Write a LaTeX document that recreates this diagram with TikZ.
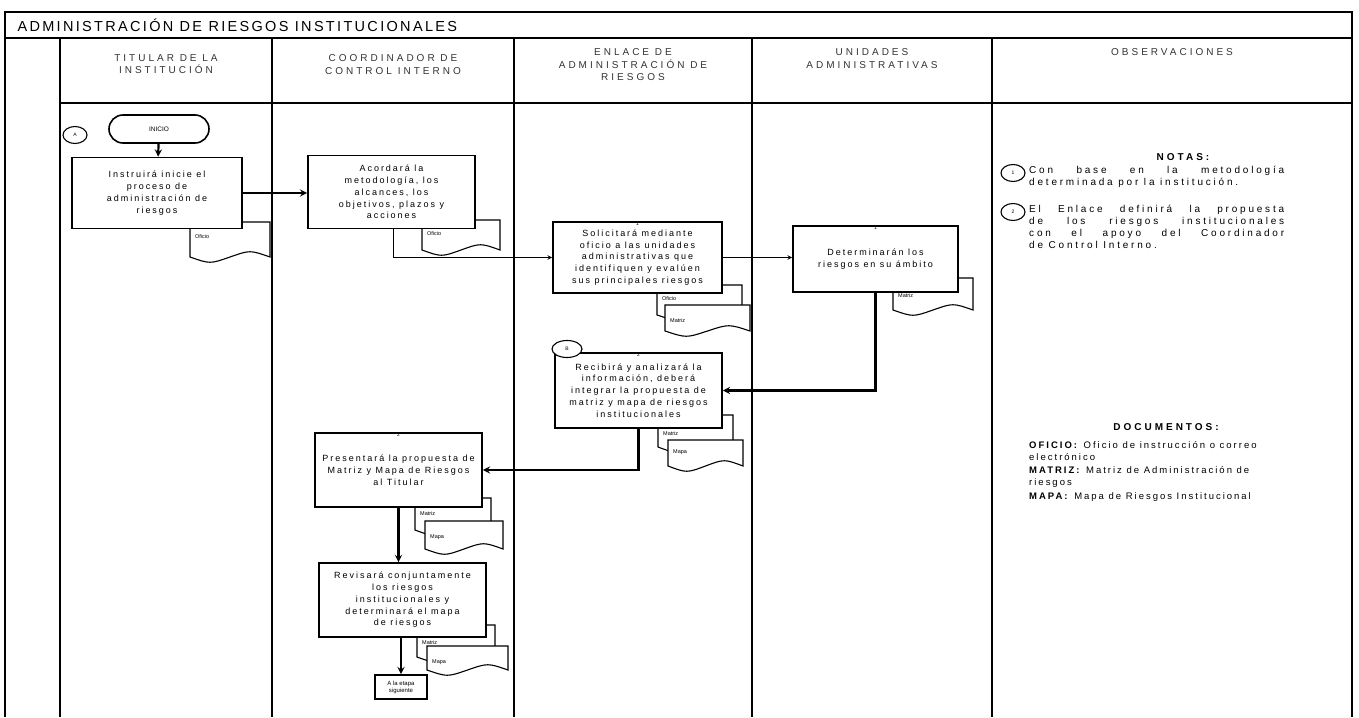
\documentclass[tikz,border=0pt]{standalone}
\usepackage{fontspec}
\setmainfont{Liberation Sans}
\usetikzlibrary{arrows,shapes.misc,shapes.geometric}

\newcommand{\cajafont}{\fontsize{9}{11.8}\selectfont\addfontfeature{LetterSpace=22}}
\newcommand{\cabfont}{\fontsize{10}{12.5}\selectfont\addfontfeature{LetterSpace=30}}
\newcommand{\notafont}{\fontsize{10}{12}\selectfont\addfontfeature{LetterSpace=28}}
\newcommand{\docfont}{\fontsize{9.5}{12.5}\selectfont\addfontfeature{LetterSpace=21}}

% documento con borde ondulado: nombre, x, y, ancho, alto, altura del texto, texto
\newcommand{\hoja}[7]{%
  \draw[hojaline] (#2,#3) -- ++(#4,0) -- ++(0,#5)
    .. controls +(-0.25*#4,-7) and +(0.25*#4,-7) .. ++(-0.5*#4,0)
    .. controls +(-0.25*#4,7) and +(0.25*#4,7) .. ++(-0.5*#4,0) -- cycle;
  \node[hojatext] (#1) at (#2+5,#3+#6) {#7};}

\tikzset{
  marco/.style={line width=1.1pt},
  caja/.style={draw, line width=1.6pt, fill=white, align=center, font=\cajafont, inner sep=1pt},
  hojaline/.style={line width=1.1pt, fill=white},
  hojatext/.style={anchor=west, inner sep=0pt, font=\fontsize{5.5}{6}\selectfont},
  marca/.style={anchor=north, inner sep=1pt, font=\fontsize{5}{6}\selectfont},
  conector/.style={draw, ellipse, line width=1.1pt, fill=white, inner sep=0pt, minimum width=24pt, minimum height=17pt, font=\fontsize{5}{6}\selectfont},
  flujo/.style={->, >=stealth, line width=1.1pt},
  grueso/.style={->, >=stealth, line width=2.2pt},
  cabecera/.style={anchor=north, align=center, font=\cabfont, text=black!80},
  nota/.style={anchor=north west, inner sep=0pt, font=\notafont},
  doc/.style={anchor=north west, inner sep=0pt, align=left, font=\docfont}
}

\begin{document}
\begin{tikzpicture}[x=1pt, y=-1pt]
\useasboundingbox (0,0) rectangle (1359,717);

% marco y carriles
\draw[marco] (5,717) -- (5,12) -- (1352,12) -- (1352,717);
\draw[marco] (5,38) -- (1352,38);
\draw[marco] (60,103) -- (1352,103);
\foreach \x in {60,272,514,752,992}
  \draw[marco] (\x,38) -- (\x,717);

\node[anchor=west, font=\fontsize{14.5}{17}\selectfont\addfontfeature{LetterSpace=16}] (titulo) at (14,25) {ADMINISTRACIÓN DE RIESGOS INSTITUCIONALES};
\node[cabecera] (hTit) at (166,51) {TITULAR DE LA\\INSTITUCIÓN};
\node[cabecera] (hCoo) at (393,51) {COORDINADOR DE\\CONTROL INTERNO};
\node[cabecera] (hEnl) at (633,45) {ENLACE DE\\ADMINISTRACIÓN DE\\RIESGOS};
\node[cabecera] (hUni) at (872,45) {UNIDADES\\ADMINISTRATIVAS};
\node[cabecera] (hObs) at (1172,45) {OBSERVACIONES};

% documentos
\hoja{d1}{190}{222}{80}{35}{15}{Oficio}
\hoja{d2}{422}{220}{78}{30}{14}{Oficio}
\hoja{d3a}{657}{285}{85}{30}{14}{Oficio}
\hoja{d3b}{665}{305}{85}{26}{16}{Matriz}
\hoja{d4}{893}{278}{80}{32}{18}{Matriz}
\hoja{d5a}{658}{415}{75}{32}{19}{Matriz}
\hoja{d5b}{668}{440}{75}{26}{12}{Mapa}
\hoja{d6a}{415}{498}{76}{32}{16}{Matriz}
\hoja{d6b}{425}{521}{78}{28}{16}{Mapa}
\hoja{d7a}{417}{625}{78}{32}{18}{Matriz}
\hoja{d7b}{427}{646}{81}{24}{16}{Mapa}

% actividades
\node[conector] (cA) at (75,135) {A};
\node[caja, rounded rectangle, minimum width=102pt, minimum height=28pt, font=\fontsize{6.5}{7}\selectfont] (ini) at (159,129) {INICIO};
\node[caja, minimum width=170pt, minimum height=71pt] (b1) at (157,193) {Instruirá inicie el\\proceso de\\administración de\\riesgos};
\node[caja, minimum width=167pt, minimum height=73pt] (b2) at (391.5,192) {Acordará la\\metodología, los\\alcances, los\\objetivos, plazos y\\acciones};
\node[caja, minimum width=169pt, minimum height=71pt, label={[marca]north:1}] (b3) at (637.5,257.5) {Solicitará mediante\\oficio a las unidades\\administrativas que\\identifiquen y evalúen\\sus principales riesgos};
\node[caja, minimum width=165pt, minimum height=66pt, label={[marca]north:1}] (b4) at (875.5,259) {Determinarán los\\riesgos en su ámbito};
\node[caja, minimum width=167pt, minimum height=75pt, label={[marca]north:2}] (b5) at (638.5,390.5) {Recibirá y analizará la\\información, deberá\\integrar la propuesta de\\matriz y mapa de riesgos\\institucionales};
\node[conector, minimum width=30pt] (cB) at (567,349) {B};
\node[caja, minimum width=167pt, minimum height=74pt, label={[marca]north:2}] (b6) at (398.5,470) {Presentará la propuesta de\\Matriz y Mapa de Riesgos\\al Titular};
\node[caja, minimum width=167pt, minimum height=74pt] (b7) at (402.5,600) {Revisará conjuntamente\\los riesgos\\institucionales y\\determinará el mapa\\de riesgos};
\node[caja, minimum width=52pt, minimum height=24pt, font=\fontsize{6}{7}\selectfont] (fin) at (401,687) {A la etapa\\siguiente};

% flujo
\draw[grueso] (ini) -- (b1);
\draw[grueso] (b1.east) -- (b1.east -| b2.west);
\draw[flujo] ([xshift=2pt]b2.south) |- (b3.west);
\draw[flujo] (b3.east) -- (b3.east -| b4.west);
\draw[grueso] (b4.south) |- (b5.east);
\draw[grueso] (b5.south) |- (b6.east);
\draw[grueso] (b6.south) -- (b6.south |- b7.north);
\draw[grueso] ([xshift=-1.5pt]b7.south) -- (fin.north);

% observaciones
\node[font=\cabfont\bfseries] (notas) at (1183,157) {NOTAS:};
\node[conector] (n1) at (1013,173) {1};
\node[nota, text width=255pt, align=justify] (t1) at (1029,166) {Con base en la metodología\linebreak determinada por la institución.};
\node[conector] (n2) at (1013,212) {2};
\node[nota, text width=255pt, align=justify] (t2) at (1029,205) {El Enlace definirá la propuesta\linebreak de los riesgos institucionales\linebreak con el apoyo del Coordinador\linebreak de Control Interno.};
\node[font=\cabfont\bfseries] (docs) at (1166,427) {DOCUMENTOS:};
\node[doc] (o1) at (1029,441) {\textbf{OFICIO:} Oficio de instrucción o correo\\electrónico};
\node[doc] (o2) at (1029,466) {\textbf{MATRIZ:} Matriz de Administración de\\riesgos};
\node[doc] (o3) at (1029,492) {\textbf{MAPA:} Mapa de Riesgos Institucional};
\end{tikzpicture}
\end{document}
